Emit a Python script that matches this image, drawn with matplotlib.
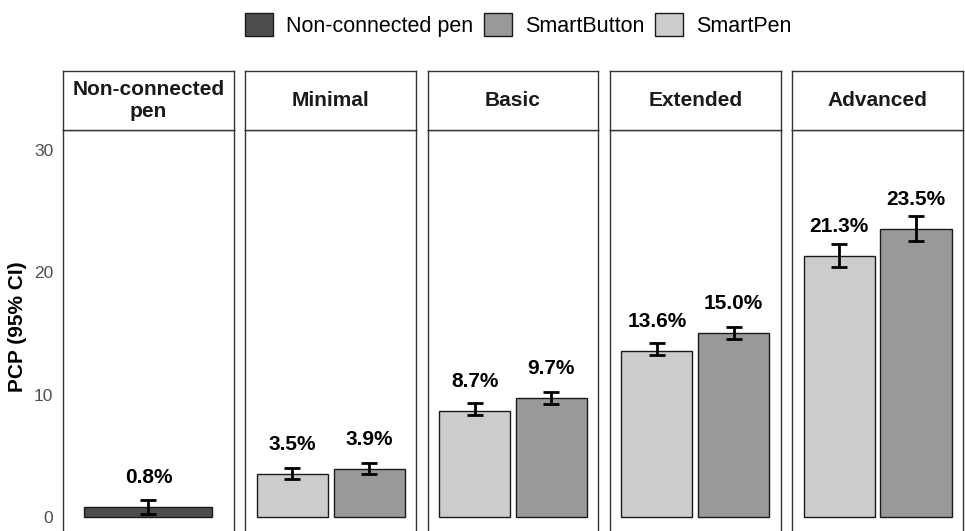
import matplotlib.pyplot as plt
from matplotlib.patches import Patch

plt.rcParams['font.family'] = ['Liberation Sans', 'DejaVu Sans']

# facets and the devices shown in each
panels = ["Non-connected\npen", "Minimal", "Basic", "Extended", "Advanced"]
devices = [["Non-connected pen"],
           ["SmartPen", "SmartButton"],
           ["SmartPen", "SmartButton"],
           ["SmartPen", "SmartButton"],
           ["SmartPen", "SmartButton"]]
pcp = [[0.8], [3.5, 3.9], [8.7, 9.7], [13.6, 15.0], [21.3, 23.5]]
ci_low = [[0.25], [3.1, 3.5], [8.3, 9.2], [13.2, 14.5], [20.4, 22.5]]
ci_high = [[1.4], [4.0, 4.4], [9.3, 10.2], [14.2, 15.5], [22.3, 24.6]]

colors = {"Non-connected pen": "#4d4d4d", "SmartButton": "#999999", "SmartPen": "#cccccc"}
legend_order = ["Non-connected pen", "SmartButton", "SmartPen"]

W, H = 965, 531
fig = plt.figure(figsize=(W / 100, H / 100), dpi=100)

left0, right0 = 63, 963
gap = 11.5
pw = (right0 - left0 - 4 * gap) / 5
strip_top, strip_bot = 71, 130
ymin, ymax = -1.5, 31.6
ax_h = (ymax - ymin) * 12.25

for i, name in enumerate(panels):
    x0 = left0 + i * (pw + gap)
    ax = fig.add_axes([x0 / W, 1 - (strip_bot + ax_h) / H, pw / W, ax_h / H])
    n = len(devices[i])
    if n == 1:
        xs, bw = [1.0], 0.9
    else:
        xs, bw = [1 - 0.27, 1 + 0.27], 0.5
    for x, dev, v, lo, hi in zip(xs, devices[i], pcp[i], ci_low[i], ci_high[i]):
        ax.bar(x, v, width=bw, color=colors[dev], edgecolor="#1a1a1a", linewidth=1.0, zorder=2)
        ax.errorbar(x, v, yerr=[[v - lo], [hi - v]], fmt="none", ecolor="black",
                    elinewidth=2, capsize=5.5, capthick=2, zorder=3)
        ax.text(x, v + 2.4, f"{v:.1f}%", ha="center", va="center",
                fontsize=15, fontweight="bold", color="black")
    ax.set_xlim(0.4, 1.6)
    ax.set_ylim(ymin, ymax)
    ax.set_xticks([])
    for s in ax.spines.values():
        s.set_color("#333333")
        s.set_linewidth(1.0)
    if i == 0:
        ax.set_yticks([0, 10, 20, 30])
        ax.tick_params(axis="y", length=0, labelsize=12.5, labelcolor="#4d4d4d", pad=7)
    else:
        ax.set_yticks([])

    # facet strip
    sax = fig.add_axes([x0 / W, 1 - strip_bot / H, pw / W, (strip_bot - strip_top) / H])
    sax.set_xticks([])
    sax.set_yticks([])
    for s in sax.spines.values():
        s.set_color("#333333")
        s.set_linewidth(1.0)
    sax.text(0.5, 0.5, name, ha="center", va="center", fontsize=15,
             fontweight="bold", color="#1a1a1a", linespacing=1.2, transform=sax.transAxes)

fig.text(18 / W, 1 - 327 / H, "PCP (95% CI)", rotation=90, ha="center", va="center",
         fontsize=15, fontweight="bold")

handles = [Patch(facecolor=colors[d], edgecolor="#1a1a1a", linewidth=1.0) for d in legend_order]
fig.legend(handles, legend_order, loc="center", bbox_to_anchor=(518 / W, 1 - 25 / H),
           ncol=3, frameon=False, fontsize=15.5, handlelength=1.3, handleheight=1.3,
           handletextpad=0.6, columnspacing=0.5)

fig.savefig("out.png", dpi=100)
